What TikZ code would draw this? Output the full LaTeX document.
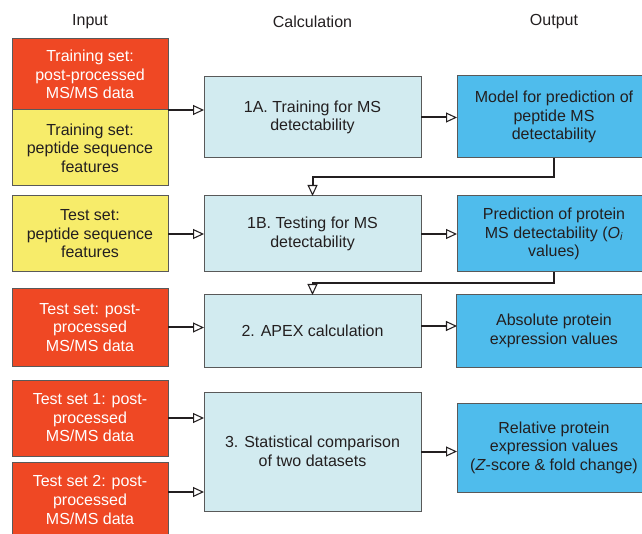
\documentclass[tikz,border=0pt]{standalone}
\usepackage{fontspec}
\setmainfont{Liberation Sans}
\usetikzlibrary{arrows.meta,positioning}

\tikzstyle{block} = [draw=black!65, rectangle, text centered, align=center, line width=0.75pt, inner sep=0pt, outer sep=0pt]
\tikzstyle{input} = [block, minimum width=117pt]
\tikzstyle{ms} = [input, fill=red1, text=white]
\tikzstyle{pep} = [input, fill=yellow1, text=ink]
\tikzstyle{calc} = [block, fill=cyan1, text=ink, minimum width=162.75pt]
\tikzstyle{result} = [block, fill=blue1, text=ink, minimum width=145.5pt]
\tikzstyle{header} = [text=ink]
\tikzstyle{arrow} = [draw, ink, line width=1.5pt, -{Triangle[open, length=8.25pt, width=7.5pt, line width=0.8pt]}]
\definecolor{red1}{RGB}{239,72,36}
\definecolor{yellow1}{RGB}{247,236,106}
\definecolor{cyan1}{RGB}{210,235,240}
\definecolor{blue1}{RGB}{79,188,236}
\definecolor{ink}{RGB}{35,31,32}

\begin{document}
\begin{tikzpicture}[x=0.75pt, y=-0.75pt, node distance=181.1pt, font=\fontsize{12}{13.9}\selectfont]
	\useasboundingbox (0,0) rectangle (642,534);
	\clip (0,0) rectangle (642,534);

	\node [header] (input_head) at (90,22) {Input};
	\node [header] (calc_head) at (312.5,22) {Calculation};
	\node [header] (output_head) at (554,22) {Output};

	% Training
	\node [ms, minimum height=53.25pt] (train_ms) at (90,74.5) {Training set:\\post-processed\\MS/MS data};
	\node [pep, minimum height=57pt, below=0pt of train_ms] (train_pep) {Training set:\\peptide sequence\\features};
	\node [calc, minimum height=60.75pt] (train_calc) at (312.5,117.5) {1A. Training for MS\\detectability};
	\node [result, minimum height=61.5pt] (model) at (554,117) {Model for prediction of\\peptide MS\\detectability};

	% Testing
	\node [pep, minimum height=57pt] (test_pep) at (90,234) {Test set:\\peptide sequence\\features};
	\node [calc, minimum height=57pt, right of=test_pep, node distance=166.9pt] (test_calc) {1B. Testing for MS\\detectability};
	\node [result, minimum height=57pt, right of=test_calc] (pred) {Prediction of protein\\MS detectability (\textit{O\textsubscript{i}}\\values)};

	% APEX
	\node [ms, minimum height=57.75pt] (test_ms) at (90,327.5) {Test set: post-\\processed\\MS/MS data};
	\node [calc, minimum height=54pt] (apex) at (312.5,331) {2. APEX calculation};
	\node [result, minimum height=54pt, right of=apex] (absolute) {Absolute protein\\expression values};

	% Comparison
	\node [ms, minimum height=57pt] (test1_ms) at (90,418) {Test set 1: post-\\processed\\MS/MS data};
	\node [ms, minimum height=57pt] (test2_ms) at (90,500) {Test set 2: post-\\processed\\MS/MS data};
	\node [calc, minimum height=89.25pt] (stat) at (312.5,451.5) {3. Statistical comparison\\of two datasets};
	\node [result, minimum height=66.75pt] (relative) at (554,447.5) {Relative protein\\expression values\\(\textit{Z}-score \& fold change)};

	\draw [arrow] (train_ms.south east) to (train_ms.south east -| train_calc.west);
	\draw [arrow] (train_calc.east) to (train_calc.east -| model.west);
	\draw [arrow] (model.south) -- ++(0,19) -| (test_calc.north);

	\draw [arrow] (test_pep) to (test_calc);
	\draw [arrow] (test_calc) to (pred);
	\draw [arrow] (pred.south) -- ++(0,11) -| (apex.north);

	\draw [arrow] (test_ms.east) to (test_ms.east -| apex.west);
	\draw [arrow] ([yshift=3.75pt] apex.east) to ([yshift=3.75pt] absolute.west);

	\draw [arrow] (test1_ms.east) to (test1_ms.east -| stat.west);
	\draw [arrow] ([yshift=6pt] test2_ms.east) to ([yshift=6pt] test2_ms.east -| stat.west);
	\draw [arrow] (stat.east) to (stat.east -| relative.west);
\end{tikzpicture}
\end{document}
